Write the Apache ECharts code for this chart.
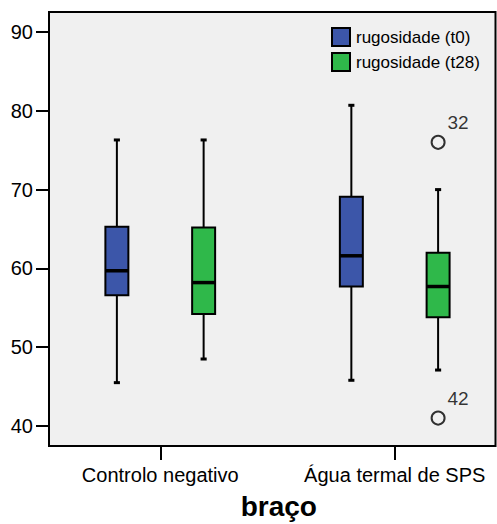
<!DOCTYPE html>
<html><head><meta charset="utf-8">
<script src="https://cdn.jsdelivr.net/npm/echarts@6/dist/echarts.min.js"></script>
<style>html,body{margin:0;padding:0;background:#fff}#c{width:497px;height:524px}</style>
</head><body><div id="c"></div>
<script>
const categories = ['Controlo negativo', 'Água termal de SPS'];
const seriesNames = ['rugosidade (t0)', 'rugosidade (t28)'];
const yTicks = [40, 50, 60, 70, 80, 90];
// [min, Q1, median, Q3, max] per category
const boxT0 = [[45.5, 56.6, 59.7, 65.3, 76.3], [45.8, 57.7, 61.6, 69.1, 80.7]];
const boxT28 = [[48.5, 54.2, 58.2, 65.2, 76.3], [47.1, 53.8, 57.7, 62.0, 70.0]];
// outliers of t28: [category index, value, case label]
const outT28 = [[1, 76.0, '32'], [1, 41.0, '42']];
const colors = ['#3c56a9', '#2fb84a'];

const FONT = 'Liberation Sans, Arial, sans-serif';
const offsets = [-0.185, 0.185];
const boxHalf = 0.049, capHalf = 0.013;

function makeRender(off) {
  return function (params, api) {
    const c = api.value(0) + off;
    const lo = api.coord([c, api.value(1)]);
    const q1 = api.coord([c, api.value(2)]);
    const md = api.coord([c, api.value(3)]);
    const q3 = api.coord([c, api.value(4)]);
    const hi = api.coord([c, api.value(5)]);
    const hw = api.size([boxHalf, 0])[0];
    const cw = api.size([capHalf, 0])[0];
    const x = q1[0];
    const ls = {stroke: '#000', lineWidth: 2};
    return {type: 'group', children: [
      {type: 'line', shape: {x1: x, y1: hi[1], x2: x, y2: q3[1]}, style: ls},
      {type: 'line', shape: {x1: x, y1: q1[1], x2: x, y2: lo[1]}, style: ls},
      {type: 'line', shape: {x1: x - cw, y1: hi[1], x2: x + cw, y2: hi[1]}, style: {stroke: '#000', lineWidth: 3}},
      {type: 'line', shape: {x1: x - cw, y1: lo[1], x2: x + cw, y2: lo[1]}, style: {stroke: '#000', lineWidth: 3}},
      {type: 'rect', shape: {x: x - hw, y: q3[1], width: 2 * hw, height: q1[1] - q3[1]},
        style: {fill: api.visual('color'), stroke: '#000', lineWidth: 2}},
      {type: 'line', shape: {x1: x - hw, y1: md[1], x2: x + hw, y2: md[1]}, style: {stroke: '#000', lineWidth: 3.5}}
    ]};
  };
}

const chart = echarts.init(document.getElementById('c'), null, {renderer: 'svg'});
chart.setOption({
  animation: false,
  backgroundColor: '#fff',
  textStyle: {fontFamily: FONT},
  grid: {left: 49, right: 1.5, top: 12, bottom: 78, show: true, backgroundColor: '#f0f0f0',
    borderColor: '#000', borderWidth: 2, outerBoundsMode: 'none', containLabel: false},
  legend: {
    orient: 'vertical', left: 331, top: 27, padding: 0, itemWidth: 18, itemHeight: 18, itemGap: 5,
    textStyle: {fontSize: 17, color: '#000', fontFamily: FONT, padding: [0, 0, 0, 1]},
    data: seriesNames.map((n, i) => ({name: n, icon: 'rect',
      itemStyle: {color: colors[i], borderColor: '#000', borderWidth: 2}}))
  },
  xAxis: {
    type: 'value', min: -0.4745, max: 1.4298,
    splitLine: {show: false}, axisLine: {show: false, onZero: false},
    axisTick: {show: true, customValues: [0, 1], length: 14, lineStyle: {color: '#000', width: 2}},
    axisLabel: {customValues: [0, 1], formatter: v => categories[Math.round(v)], margin: 19,
      fontSize: 20, color: '#000', fontFamily: FONT},
    name: 'braço', nameLocation: 'middle', nameGap: 46,
    nameTextStyle: {fontWeight: 'bold', fontSize: 28, color: '#000', fontFamily: FONT, padding: [0, 0, 0, 13]}
  },
  yAxis: {
    type: 'value', min: 37.46, max: 92.54,
    splitLine: {show: false}, axisLine: {show: false, onZero: false},
    axisTick: {show: true, customValues: yTicks, length: 13, lineStyle: {color: '#000', width: 2}},
    axisLabel: {customValues: yTicks, margin: 16, fontSize: 20, color: '#000', fontFamily: FONT}
  },
  series: [
    {name: seriesNames[0], type: 'custom', itemStyle: {color: colors[0]},
      renderItem: makeRender(offsets[0]), encode: {x: 0, y: [1, 2, 3, 4, 5]},
      data: boxT0.map((b, i) => [i].concat(b))},
    {name: seriesNames[1], type: 'custom', itemStyle: {color: colors[1]},
      renderItem: makeRender(offsets[1]), encode: {x: 0, y: [1, 2, 3, 4, 5]},
      data: boxT28.map((b, i) => [i].concat(b))},
    {name: 'outliers', type: 'scatter', symbol: 'circle', symbolSize: 13,
      itemStyle: {color: 'rgba(0,0,0,0)', borderColor: '#000', borderWidth: 2},
      label: {show: true, position: 'top', distance: 3, offset: [20, 0], formatter: '{b}',
        fontSize: 19, color: '#000', fontFamily: FONT},
      data: outT28.map(o => ({name: o[2], value: [o[0] + offsets[1], o[1]]}))}
  ]
});
</script>
</body></html>
